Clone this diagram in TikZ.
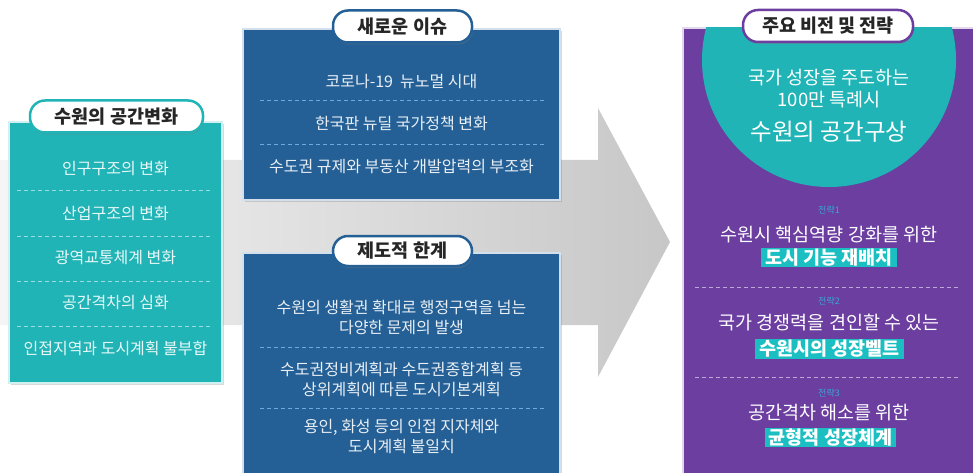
\documentclass[tikz,border=0pt]{standalone}
\usepackage{fontspec}
\setmainfont{Noto Sans CJK KR}
\usepackage{tikz}
\usetikzlibrary{shadows}

\definecolor{swteal}{RGB}{32,180,182}
\definecolor{swblue}{RGB}{36,96,150}
\definecolor{swpurple}{RGB}{107,62,160}
\definecolor{swdash}{RGB}{110,170,220}
\definecolor{swtag}{RGB}{60,165,210}

\tikzset{
  pill/.style={draw=#1, line width=2.5pt, fill=white, rounded corners=15pt,
    minimum height=32pt, inner xsep=0pt, text=black!85,
    font=\fontsize{18.5}{18.5}\selectfont\bfseries,
    drop shadow={shadow xshift=1pt, shadow yshift=-2pt, opacity=0.35}},
  panel/.style={fill=#1, draw=white!80!#1, line width=1.2pt,
    drop shadow={shadow xshift=2pt, shadow yshift=-2pt, opacity=0.3}},
  item/.style={text=white!90!#1, align=center, font=\fontsize{16}{20}\selectfont},
  sep/.style={dash pattern=on 4pt off 3pt, line width=0.7pt},
  bigtext/.style={text=white, align=center, font=\fontsize{18.5}{22}\selectfont},
  hilite/.style={fill=swteal!85!cyan, text=white, inner xsep=4pt, inner ysep=1pt,
    font=\fontsize{18.5}{18.5}\selectfont\bfseries},
  tag/.style={text=swtag, font=\fontsize{9}{9}\selectfont},
}

\begin{document}
\begin{tikzpicture}[x=1pt,y=-1pt]
\useasboundingbox (0,0) rectangle (973,473);
% big grey arrow behind the panels
\shade[left color=black!4,right color=black!22]
  (0,160)--(598,160)--(598,108)--(670,242)--(598,377)--(598,325)--(0,325)--cycle;

% left panel
\path[panel=swteal] (9,122) rectangle (222,383);
\foreach \y in {190,236,281,326}
  \draw[sep,white!55!swteal] (17,\y)--(213,\y);
\node[item=swteal] (l1) at (115.5,169) {인구구조의 변화};
\node[item=swteal] (l2) at (115.5,214) {산업구조의 변화};
\node[item=swteal] (l3) at (115.5,258) {광역교통체계 변화};
\node[item=swteal] (l4) at (115.5,303) {공간격차의 심화};
\node[item=swteal] (l5) at (115.5,348) {인접지역과 도시계획 불부합};
\node[pill=swteal,minimum width=173pt] (ltitle) at (116.5,116.5) {수원의 공간변화};

% middle panels
\path[panel=swblue] (243,29) rectangle (560,200);
\foreach \y in {100,144}
  \draw[sep,swdash] (260,\y)--(545,\y);
\node[item=swblue] (m1) at (401.5,82) {코로나-19\ \ 뉴노멀 시대};
\node[item=swblue] (m2) at (401.5,124) {한국판 뉴딜 국가정책 변화};
\node[item=swblue] (m3) at (401.5,167) {수도권 규제와 부동산 개발압력의 부조화};
\node[pill=swblue,minimum width=139pt] (mtitle) at (402.5,26.5) {새로운 이슈};

\path[panel=swblue] (243,253) rectangle (560,480);
\foreach \y in {347,408}
  \draw[sep,swdash] (260,\y)--(545,\y);
\node[item=swblue] (n1) at (401.5,317) {수원의 생활권 확대로 행정구역을 넘는\\다양한 문제의 발생};
\node[item=swblue] (n2) at (401.5,379) {수도권정비계획과 수도권종합계획 등\\상위계획에 따른 도시기본계획};
\node[item=swblue] (n3) at (401.5,437) {용인, 화성 등의 인접 지자체와\\도시계획 불일치};
\node[pill=swblue,minimum width=139pt,minimum height=30pt] (ntitle) at (402.5,251) {제도적 한계};

% right panel
\path[panel=swpurple] (683,28) rectangle (980,480);
\begin{scope}
  \clip (683,28) rectangle (980,480);
  \fill[swteal] (829,60) circle[radius=127];
\end{scope}
\node[bigtext] (c1) at (829,89) {국가 성장을 주도하는\\100만 특례시};
\node[text=white,font=\fontsize{23.5}{23.5}\selectfont] (c2) at (829,132) {수원의 공간구상};
\foreach \y in {287,377}
  \draw[sep,white!55!swpurple] (695,\y)--(960,\y);
\node[tag] (t1) at (829,210) {전략1};
\node[bigtext] (s1) at (829,235) {수원시 핵심역량 강화를 위한};
\node[hilite] (h1) at (829,257.5) {도시 기능 재배치};
\node[tag] (t2) at (829,301) {전략2};
\node[bigtext] (s2) at (829,322) {국가 경쟁력을 견인할 수 있는};
\node[hilite] (h2) at (829.5,349) {수원시의 성장벨트};
\node[tag] (t3) at (829,393) {전략3};
\node[bigtext] (s3) at (829,413) {공간격차 해소를 위한};
\node[hilite] (h3) at (830.5,437.5) {균형적 성장체계};
\node[pill=swpurple,minimum width=170pt] (rtitle) at (828,26) {주요 비전 및 전략};
\end{tikzpicture}
\end{document}
